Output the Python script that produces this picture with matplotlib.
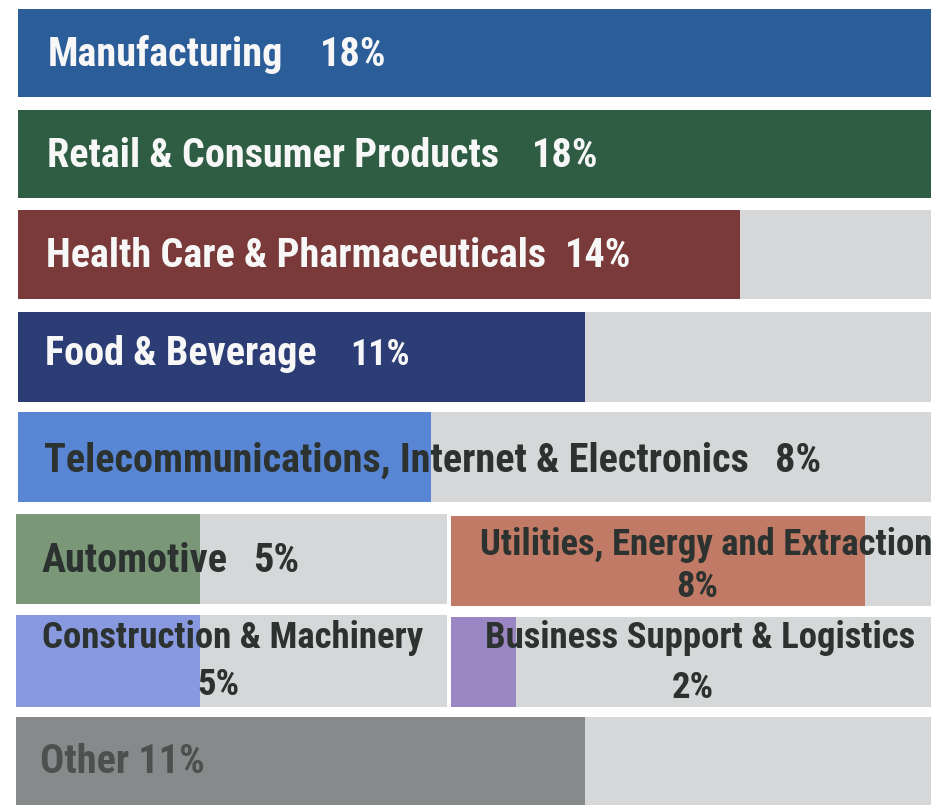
import matplotlib
matplotlib.use("Agg")
import matplotlib.pyplot as plt

# data
sectors = ["Manufacturing", "Retail & Consumer Products", "Health Care & Pharmaceuticals",
           "Food & Beverage", "Telecommunications, Internet & Electronics", "Automotive",
           "Utilities, Energy and Extraction", "Construction & Machinery",
           "Business Support & Logistics", "Other"]
shares = [18, 18, 14, 11, 8, 5, 8, 5, 2, 11]
colors = ["#2b5e98", "#2e5d43", "#7b3a3a", "#2c3d75", "#5886d4", "#7a9878",
          "#c07a65", "#8899e0", "#9a86c2", "#878a8a"]
text_colors = ["#f7f7f7"] * 4 + ["#2c3230"] * 5 + ["#4c5150"]

TRACK = "#d6d7d8"
W, H = 931, 805

# cell boxes in pixels (x0, y0, x1, y1) and the value at which the track ends
cells = [(18, 9, 931, 97), (18, 110, 931, 198), (18, 210, 931, 299),
         (18, 312, 931, 402), (18, 412, 931, 502), (16, 514, 447, 604),
         (451, 516, 931, 606), (16, 615, 447, 707), (451, 617, 931, 707),
         (16, 717, 931, 805)]
track_max = [17.7, 17.7, 17.7, 17.7, 17.7, 11.7, 9.28, 11.7, 14.8, 17.7]

FONT = ["Roboto Condensed", "DejaVu Sans"]
FS = 29       # full-width rows
FS_HALF = 26.5  # half-width cells

fig = plt.figure(figsize=(W / 100, H / 100), dpi=100)
fig.patch.set_facecolor("white")


def fx(px):
    return px / W


def fy(py):
    return 1 - py / H


for i, (x0, y0, x1, y1) in enumerate(cells):
    ax = fig.add_axes([fx(x0), fy(y1), (x1 - x0) / W, (y1 - y0) / H])
    ax.barh(0, track_max[i], height=1, color=TRACK, linewidth=0)
    ax.barh(0, shares[i], height=1, color=colors[i], linewidth=0)
    ax.set_xlim(0, track_max[i])
    ax.set_ylim(-0.5, 0.5)
    ax.axis("off")

# one-line labels: (index, label x, value x, baseline y, value size)
inline = [(0, 48, 320, 66, FS), (1, 47, 532, 167, FS), (2, 46, 565, 267, FS),
          (3, 45, 350, 365, 26), (4, 44, 775, 472, FS), (5, 42, 253, 572, FS)]
for i, lx, vx, y, vs in inline:
    kw = dict(va="baseline", ha="left", color=text_colors[i], family=FONT, weight="bold")
    fig.text(fx(lx), fy(y), sectors[i], fontsize=FS, **kw)
    fig.text(fx(vx), fy(y), f"{shares[i]}%", fontsize=vs, **kw)

# two-line labels: (index, label center x, label baseline, value center x, value baseline)
stacked = [(6, 706, 555, 697, 597), (7, 233, 648, 218, 695), (8, 700, 648, 693, 698)]
for i, lx, ly, vx, vy in stacked:
    kw = dict(va="baseline", ha="center", color=text_colors[i], family=FONT, weight="bold")
    fig.text(fx(lx), fy(ly), sectors[i], fontsize=FS_HALF, **kw)
    fig.text(fx(vx), fy(vy), f"{shares[i]}%", fontsize=FS_HALF, **kw)

fig.text(fx(40), fy(773), f"{sectors[9]} {shares[9]}%", fontsize=FS, va="baseline",
         ha="left", color=text_colors[9], family=FONT, weight="bold")

fig.savefig("out.png", dpi=100)
